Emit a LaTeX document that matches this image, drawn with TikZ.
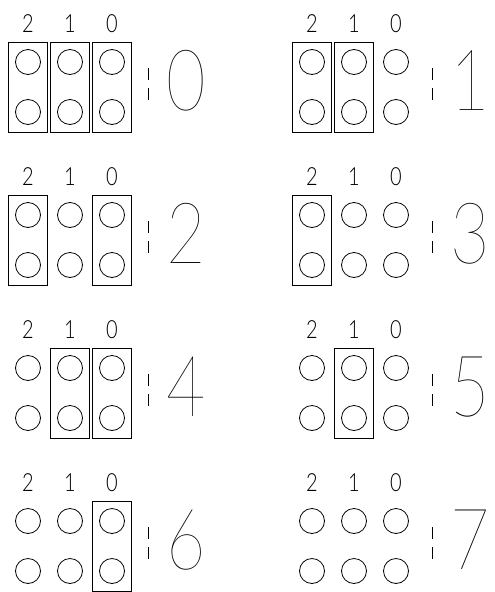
\documentclass[tikz,border=0pt]{standalone}
\usepackage{fontspec}
\usepackage{tikz}
\usetikzlibrary{fit}
\IfFontExistsTF{Lato Hairline}{\newfontfamily\cadfont{Lato Hairline}}{%
  \IfFontExistsTF{Lato Thin}{\newfontfamily\cadfont{Lato Thin}}{%
    \IfFontExistsTF{Fira Sans Light}{\newfontfamily\cadfont{Fira Sans Light}}{%
      \newfontfamily\cadfont{Fira Sans}}}}
\IfFontExistsTF{Lato Light}{\newfontfamily\bitfont{Lato Light}}{%
  \newfontfamily\bitfont{Lato}}

\begin{document}
\begin{tikzpicture}[
  x=1pt,y=-1pt,
  line width=0.8pt,
  pin/.style={draw,circle,minimum size=25pt,inner sep=0pt},
  jumper/.style={draw,inner xsep=6.5pt,inner ysep=7pt},
  bitlbl/.style={font=\bitfont\fontsize{25}{25}\selectfont,inner sep=0pt},
  digit/.style={font=\cadfont\fontsize{85}{85}\selectfont,inner sep=0pt,anchor=base west},
  sep/.style={dash pattern=on 12pt off 8pt}
]
  \useasboundingbox (0,0) rectangle (495,592);
  % one panel per setting: bit label, pin pair, jumper when the bit is 0
  \foreach \n/\px/\py in {0/28/62,1/312/62,2/28/215,3/312/215,4/28/368,5/312/368,6/28/521,7/312/521}{
    \begin{scope}[shift={(\px,\py)}]
      \foreach \b in {2,1,0}{
        \pgfmathsetmacro\cx{(2-\b)*42}
        \node[bitlbl] (l\n-\b) at (\cx,-38) {\scalebox{0.8}[1]{\b}};
        \node[pin] (p\n-\b-t) at (\cx,0) {};
        \node[pin] (p\n-\b-b) at (\cx,50) {};
        \pgfmathtruncatemacro\bit{mod(floor(\n/2^\b),2)}
        \ifnum\bit=0
          \node[jumper,fit=(p\n-\b-t)(p\n-\b-b)] (j\n-\b) {};
        \fi
      }
      \draw[sep] (120,6) -- (120,38);
      \node[digit] (d\n) at (138,48) {\scalebox{0.8}[1]{\n}};
    \end{scope}
  }
\end{tikzpicture}
\end{document}
